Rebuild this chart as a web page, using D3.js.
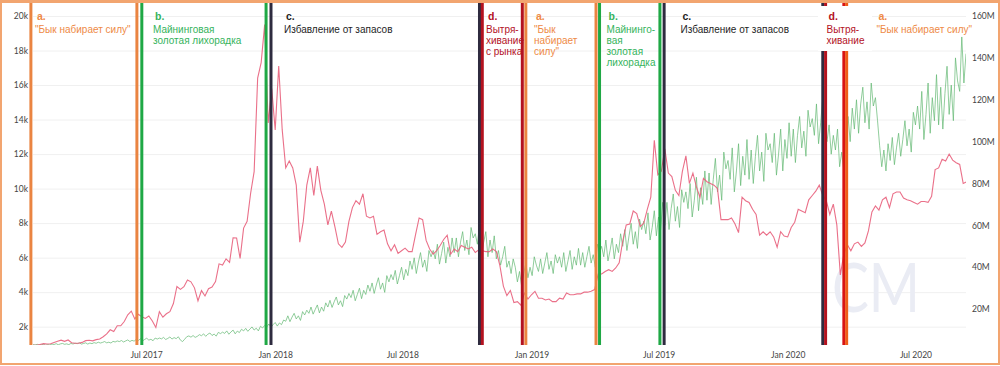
<!DOCTYPE html>
<html><head><meta charset="utf-8">
<script src="https://cdn.jsdelivr.net/npm/d3@7"></script>
<style>html,body{margin:0;padding:0;background:#fff;} svg{display:block}</style>
</head><body><svg id="c" width="1000" height="366"></svg>
<script>
// ---------------- DATA ----------------
// BTC price, thousands USD, one value every 5 days starting 2017-01-21
const priceStart = "2017-01-21";
const priceStepDays = 5;
const priceK = [
0.92,0.92,0.97,1.02,1.00,1.01,1.08,1.15,1.22,1.15,
1.23,1.07,1.04,1.04,1.09,1.19,1.21,1.18,1.25,1.29,
1.42,1.58,1.82,1.72,2.05,2.05,2.30,2.69,2.90,2.45,
2.72,2.58,2.48,2.62,2.33,1.95,2.87,2.55,2.75,2.87,
3.34,4.33,4.16,4.32,4.70,4.60,4.25,3.50,4.09,3.78,
4.20,4.30,4.61,5.64,5.57,5.93,5.73,7.15,7.14,5.95,
7.71,8.11,9.73,10.98,16.4,17.3,19.5,13.8,15.8,13.4,
17.1,13.4,11.2,11.6,11.2,10.2,6.9,8.1,10.2,11.2,
9.6,11.3,9.9,9.1,7.9,8.7,7.8,6.8,6.6,6.9,
8.1,8.9,9.3,9.1,9.7,8.4,8.3,8.4,7.35,7.5,
7.6,6.8,6.4,6.75,6.25,6.4,6.55,6.35,6.35,7.35,
8.3,8.2,7.0,6.5,6.2,6.4,6.7,7.05,7.3,6.2,
6.5,6.35,6.7,6.6,6.5,6.6,6.3,6.45,6.4,6.35,
6.35,6.5,6.35,5.55,4.35,3.8,4.1,3.4,3.45,3.25,
3.95,3.6,3.85,4.05,3.65,3.65,3.55,3.6,3.45,3.45,
3.65,3.6,3.95,3.85,3.85,3.9,3.9,4.0,4.0,4.05,
4.15,5.05,5.05,5.2,5.3,5.2,5.4,5.7,6.95,7.9,
7.95,8.7,8.55,7.8,8.0,8.8,9.5,12.8,10.8,11.0,
12.3,10.9,10.7,9.9,9.6,11.0,11.9,10.3,10.9,10.1,
9.5,10.6,10.4,10.3,10.2,10.0,8.2,8.2,8.2,8.3,
7.95,7.45,9.5,9.3,9.2,8.8,8.5,7.3,7.5,7.3,
7.5,7.2,6.6,7.5,7.25,7.2,7.75,8.05,8.8,8.7,
8.6,9.35,9.6,9.85,10.2,9.6,9.3,8.5,9.1,7.9,
5.0,6.2,6.75,6.4,6.8,6.9,6.65,6.85,7.55,8.65,
9.0,8.75,9.35,9.5,8.9,9.7,9.8,9.8,9.45,9.35,
9.3,9.2,9.1,9.25,9.25,9.2,9.55,11.1,11.2,11.7,
11.6,12.0,11.65,11.5,11.4,10.3,10.4
];
// Hash rate, millions (TH/s), one value every 3 days starting 2017-01-21
const hashStart = "2017-01-21";
const hashStepDays = 3;
const hashM = [
3.05,2.9,3.2,2.8,3.0,3.2,2.75,3.1,2.9,3.3,
3.1,3.5,3.0,3.4,3.6,3.2,3.4,3.05,3.6,3.35,
3.7,3.5,3.9,3.3,3.6,3.9,3.3,3.8,3.5,4.0,
3.7,4.2,3.8,4.1,4.5,3.9,4.2,3.8,4.6,4.3,
4.8,4.5,5.0,4.3,4.8,5.3,4.5,5.1,4.7,5.5,
5.0,5.8,4.8,5.5,6.1,5.2,5.6,4.9,6.2,5.7,
6.2,5.8,6.5,5.5,6.0,6.7,5.7,6.4,5.9,6.8,
5.2,4.5,5.6,6.8,7.2,6.6,7.4,6.5,7.0,7.8,
7.3,8.2,7.0,8.0,8.6,7.4,8.1,7.1,8.9,8.3,
9.0,8.4,9.6,8.0,9.1,10.0,8.2,9.5,8.8,10.4,
9.6,10.8,9.4,10.5,11.5,10.0,10.9,9.6,11.8,11.0,
12.2,11.5,12.9,11.3,12.6,13.6,11.9,13.4,12.6,14.8,
14.2,16.8,14.0,16.2,18.0,15.3,16.8,14.6,18.8,17.2,
19.5,18.0,21.0,17.6,19.8,22.0,18.2,21.0,19.0,23.0,
21.0,24.2,20.8,23.5,25.8,22.0,24.0,21.2,26.5,24.8,
27.5,25.5,29.0,24.0,27.0,30.0,25.0,29.0,27.0,31.5,
28.5,32.5,27.5,31.5,35.0,29.5,32.5,28.0,36.0,33.0,
36.5,34.0,38.5,32.0,36.0,40.0,34.0,39.0,36.0,43.0,
39.0,44.5,37.0,42.5,47.0,40.0,43.5,38.0,48.0,45.0,
48.0,44.0,51.0,41.5,46.5,52.0,42.0,49.5,45.0,54.0,
47.0,54.0,45.0,52.0,57.0,48.0,53.0,46.0,59.0,54.0,
56.0,51.0,60.0,46.0,52.0,57.0,45.0,53.0,47.0,55.0,
44.0,48.0,41.0,45.0,50.0,40.0,43.0,37.0,44.0,40.0,
33.0,38.0,31.0,37.0,42.0,35.0,40.0,36.0,45.0,41.0,
38.0,44.0,37.0,42.0,47.0,39.0,43.0,37.0,46.0,42.0,
45.0,40.0,47.0,38.0,43.0,48.0,39.0,45.0,41.0,49.0,
41.0,47.0,40.0,45.0,50.0,42.0,46.0,40.0,51.0,47.0,
50.0,45.0,53.0,43.0,48.0,54.0,44.0,51.0,47.0,56.0,
50.0,58.0,48.0,55.0,61.0,51.0,57.0,49.0,63.0,58.0,
62.0,56.0,66.0,53.0,59.0,67.0,55.0,64.0,58.0,71.0,
60.0,71.0,58.0,68.0,75.0,62.0,69.0,59.0,77.0,71.0,
76.0,68.0,80.0,64.0,72.0,83.0,67.0,78.0,70.0,86.0,
72.0,85.0,70.0,82.0,92.0,76.0,84.0,72.0,95.0,87.0,
91.0,82.0,97.0,76.0,86.0,99.0,79.0,93.0,84.0,101.0,
82.0,96.0,80.0,93.0,103.0,86.0,95.0,81.0,104.0,96.0,
99.0,90.0,104.0,84.0,94.0,106.0,86.0,101.0,92.0,109.0,
93.0,106.0,90.0,103.0,112.0,97.0,105.0,93.0,115.0,107.0,
111.0,103.0,118.0,99.0,109.0,121.0,104.0,100.0,108.0,94.0,
103.0,96.0,106.0,88.0,95.0,86.0,104.0,112.0,100.0,116.0,
106.0,120.0,104.0,118.0,126.0,109.0,119.0,106.0,128.0,117.0,
121.0,110.0,98.0,88.0,96.0,86.0,99.0,91.0,102.0,89.0,
97.0,104.0,93.0,101.0,110.0,98.0,106.0,95.0,114.0,108.0,
117.0,106.0,124.0,101.0,113.0,128.0,104.0,121.0,110.0,132.0,
108.0,126.0,106.0,123.0,136.0,113.0,127.0,110.0,140.0,129.0,
124.0,150.0,128.0,142.0
];
const xDomain = ["2017-01-21", "2020-09-11"];
const leftTicks = [2000,4000,6000,8000,10000,12000,14000,16000,18000,20000];
const leftTickLabels = ["2k","4k","6k","8k","10k","12k","14k","16k","18k","20k"];
const rightTicks = [20e6,40e6,60e6,80e6,100e6,120e6,140e6,160e6];
const rightTickLabels = ["20M","40M","60M","80M","100M","120M","140M","160M"];
const xTickDates = ["2017-07-01","2018-01-01","2018-07-01","2019-01-01","2019-07-01","2020-01-01","2020-07-01"];
const xTickLabels = ["Jul 2017","Jan 2018","Jul 2018","Jan 2019","Jul 2019","Jan 2020","Jul 2020"];
// phase boundary lines
const phaseDates = ["2017-01-18","2017-06-18","2017-06-25","2017-12-19","2017-12-26","2018-10-19",
  "2018-10-23","2018-12-19","2018-12-24","2019-04-03","2019-04-08","2019-07-03",
  "2019-07-09","2020-02-20","2020-02-24","2020-03-21","2020-03-25"];
const phaseKinds = ["a","a","b","b","c","c","d","d","a","a","b","b","c","c","d","d2","a2"];
// phase labels
const labelHeads = ["a.","b.","c.","d.","a.","b.","c.","d.","a."];
const labelKinds = ["a","b","c","d","a","b","c","d","a"];
const labelLines = [
  ["\"Бык набирает силу\""],
  ["Майнинговая","золотая лихорадка"],
  ["Избавление от запасов"],
  ["Вытря-","хивание","с рынка"],
  ["\"Бык","набирает","силу\""],
  ["Майнинго-","вая","золотая","лихорадка"],
  ["Избавление от запасов"],
  ["Вытря-","хивание"],
  ["\"Бык набирает силу\""]
];
const watermark = "CM";

// ---------------- LAYOUT / STYLE ----------------
const W = 1000, H = 366;
const plot = {left: 33, right: 966, bottom: 345, top: 0};
const labelX = [35, 153, 284, 486, 534, 606.5, 680.5, 826.5, 876.5];
const lineColors = {a:"#ea8441", b:"#1fa845", c:"#2e2b3f", d:"#b3121f", d2:"#d81414", a2:"#ef5d18"};
const textColors = {a:"#ee8a46", b:"#35b35c", c:"#1e1e1e", d:"#b3121f"};

const svg = d3.select("#c");
const parse = d3.utcParse("%Y-%m-%d");
const x = d3.scaleUtc().domain(xDomain.map(parse)).range([plot.left, plot.right]);
const yL = d3.scaleLinear().domain([0, 20000]).range([361.2, 16]);
const yR = d3.scaleLinear().domain([0, 160e6]).range([351, 16]);

svg.append("rect").attr("width", W).attr("height", H).attr("fill", "#fff");

// gridlines
svg.append("g").attr("transform", `translate(${plot.left},0)`)
  .call(d3.axisLeft(yL).tickValues(leftTicks).tickSize(-(plot.right - plot.left)).tickFormat(""))
  .call(g => g.select(".domain").remove())
  .call(g => g.selectAll("line").attr("stroke", "#f0f0f0").attr("stroke-width", 1));

// watermark
svg.append("text").attr("x", 832).attr("y", 312).text(watermark)
  .attr("font-family", "Lato, sans-serif").attr("font-size", 68).attr("font-weight", 400)
  .attr("textLength", 88).attr("lengthAdjust", "spacingAndGlyphs").attr("fill", "#eaecf4");

// clip
svg.append("clipPath").attr("id", "clip").append("rect")
  .attr("x", plot.left).attr("y", 0).attr("width", plot.right - plot.left).attr("height", plot.bottom);

const priceData = priceK.map((v, i) => ({d: d3.utcDay.offset(parse(priceStart), i * priceStepDays), v: v * 1000}));
const hashData = hashM.map((v, i) => ({d: d3.utcDay.offset(parse(hashStart), i * hashStepDays), v: v * 1e6}));

const gData = svg.append("g").attr("clip-path", "url(#clip)");
gData.append("path").datum(hashData)
  .attr("d", d3.line().x(d => x(d.d)).y(d => yR(d.v)))
  .attr("fill", "none").attr("stroke", "#62b872").attr("stroke-opacity", 0.7).attr("stroke-width", 1);
gData.append("path").datum(priceData)
  .attr("d", d3.line().x(d => x(d.d)).y(d => yL(d.v)))
  .attr("fill", "none").attr("stroke", "#e8607c").attr("stroke-opacity", 0.9).attr("stroke-width", 1.1);

// phase lines
svg.append("g").selectAll("line").data(phaseDates).join("line")
  .attr("x1", d => x(parse(d))).attr("x2", d => x(parse(d)))
  .attr("y1", 2).attr("y2", plot.bottom)
  .attr("stroke", (d, i) => lineColors[phaseKinds[i]]).attr("stroke-width", 3);

// white box behind the last "d" label
svg.append("rect").attr("x", 818).attr("y", 6).attr("width", 54).attr("height", 45).attr("fill", "#fff");

// labels
const gl = svg.append("g").attr("font-family", "'Liberation Sans', Arial, sans-serif");
labelHeads.forEach((h, i) => {
  const col = textColors[labelKinds[i]];
  gl.append("text").attr("x", labelX[i] + 2).attr("y", 19.5).text(h)
    .attr("font-size", 10.5).attr("font-weight", "bold").attr("fill", col);
  labelLines[i].forEach((t, j) => {
    gl.append("text").attr("x", labelX[i]).attr("y", 32.5 + j * 11).text(t)
      .attr("font-size", 10).attr("fill", col);
  });
});

// axes
const tickFont = "Lato, sans-serif";
svg.append("g").attr("transform", `translate(${plot.left - 2},0)`)
  .call(d3.axisLeft(yL).tickValues(leftTicks).tickSize(0).tickPadding(3).tickFormat((d, i) => leftTickLabels[i]))
  .call(g => g.select(".domain").remove())
  .call(g => g.selectAll("text").attr("font-family", tickFont).attr("font-size", 8.5).attr("fill", "#444"));
svg.append("g").attr("transform", `translate(${plot.right},0)`)
  .call(d3.axisRight(yR).tickValues(rightTicks).tickSize(0).tickPadding(6).tickFormat((d, i) => rightTickLabels[i]))
  .call(g => g.select(".domain").remove())
  .call(g => g.selectAll("text").attr("font-family", tickFont).attr("font-size", 8.5).attr("fill", "#444"));
svg.append("g").attr("transform", `translate(0,${plot.bottom})`)
  .call(d3.axisBottom(x).tickValues(xTickDates.map(parse)).tickSize(0).tickPadding(7).tickFormat((d, i) => xTickLabels[i]))
  .call(g => g.select(".domain").remove())
  .call(g => g.selectAll("text").attr("font-family", tickFont).attr("font-size", 8.5).attr("fill", "#444"));

// frame
svg.append("rect").attr("x", 1).attr("y", 1).attr("width", W - 2).attr("height", H - 3)
  .attr("fill", "none").attr("stroke", "#f2a570").attr("stroke-width", 2);
svg.append("rect").attr("x", 0).attr("y", 0).attr("width", W).attr("height", 3).attr("fill", "#f2a570");
</script></body></html>
